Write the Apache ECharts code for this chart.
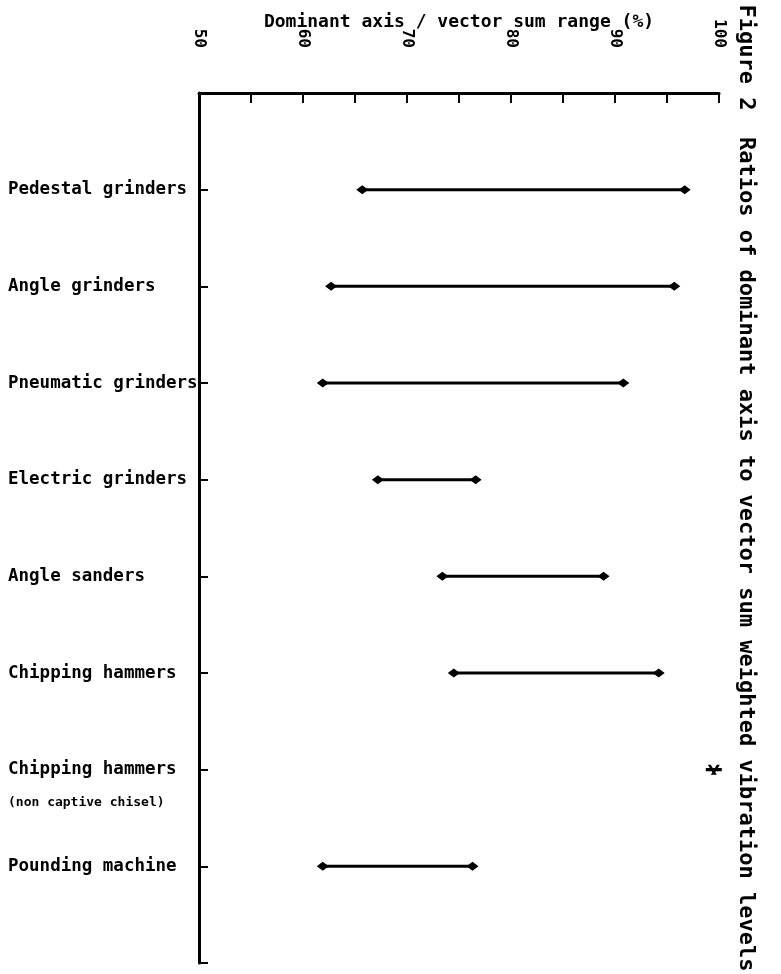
<!DOCTYPE html>
<html>
<head>
<meta charset="utf-8">
<script src="https://cdn.jsdelivr.net/npm/echarts@6/dist/echarts.min.js"></script>
<style>html,body{margin:0;padding:0;background:#fff;}#c{width:781px;height:974px;}</style>
</head>
<body>
<div id="c"></div>
<script>
const categories = ['Pedestal grinders','Angle grinders','Pneumatic grinders','Electric grinders','Angle sanders','Chipping hammers','Chipping hammers','Pounding machine'];
const subLabels = ['','','','','','','(non captive chisel)',''];
const rangeLow  = [65.7, 62.7, 61.9, 67.2, 73.4, 74.5, null, 61.9];
const rangeHigh = [96.7, 95.7, 90.8, 76.6, 88.9, 94.2, null, 76.3];
const singleValue = [null, null, null, null, null, null, 99.5, null];
const xTickLabels = ['50','60','70','80','90','100'];
const axisTitle = 'Dominant axis / vector sum range (%)';
const figTitle = 'Figure 2  Ratios of dominant axis to vector sum weighted vibration levels';

const FONT = '"DejaVu Sans Mono", monospace';
const rangeData = [];
const pointData = [];
categories.forEach((c, i) => {
  if (rangeLow[i] != null) rangeData.push([i + 1, rangeLow[i], rangeHigh[i]]);
  if (singleValue[i] != null) pointData.push([singleValue[i], i + 1]);
});

const chart = echarts.init(document.getElementById('c'), null, {renderer: 'canvas'});
chart.setOption({
  animation: false,
  backgroundColor: '#fff',
  grid: {left: 199, right: 62, top: 93, bottom: 11, containLabel: false, outerBoundsMode: 'none'},
  xAxis: {
    type: 'value', position: 'top', min: 50, max: 100, interval: 5,
    name: axisTitle, nameLocation: 'middle', nameGap: 62, nameMoveOverlap: false,
    nameTextStyle: {fontFamily: FONT, fontWeight: 'bold', fontSize: 18, color: '#000'},
    axisLine: {show: true, lineStyle: {color: '#000', width: 3}},
    axisTick: {show: true, inside: true, length: 10, lineStyle: {color: '#000', width: 2}},
    splitLine: {show: false},
    axisLabel: {
      rotate: -90, margin: 45, fontFamily: FONT, fontWeight: 'bold', fontSize: 16, color: '#000',
      formatter: v => { const k = xTickLabels.indexOf(String(v)); return k >= 0 ? xTickLabels[k] : ''; }
    }
  },
  yAxis: {
    type: 'value', inverse: true, min: 0, max: 9, interval: 1,
    axisLine: {show: true, lineStyle: {color: '#000', width: 3}},
    axisTick: {show: true, inside: true, length: 9, lineStyle: {color: '#000', width: 2}},
    splitLine: {show: false},
    axisLabel: {
      align: 'left', margin: 191, color: '#000',
      fontFamily: FONT, fontWeight: 'bold', fontSize: 17.5,
      formatter: v => {
        const i = v - 1;
        if (i < 0 || i >= categories.length) return '';
        if (subLabels[i]) return '{s| }\n{a|' + categories[i] + '}\n{s|' + subLabels[i] + '}';
        return categories[i];
      },
      rich: {
        a: {fontFamily: FONT, fontWeight: 'bold', fontSize: 17.5, color: '#000', lineHeight: 22},
        s: {fontFamily: FONT, fontWeight: 'bold', fontSize: 13, color: '#000', lineHeight: 44}
      }
    }
  },
  series: [
    {
      type: 'custom',
      data: rangeData,
      encode: {x: [1, 2], y: 0},
      renderItem: (params, api) => {
        const y = api.value(0);
        const p1 = api.coord([api.value(1), y]);
        const p2 = api.coord([api.value(2), y]);
        const d = (p) => ({type: 'polygon', shape: {points: [[p[0]-6, p[1]], [p[0], p[1]-4.5], [p[0]+6, p[1]], [p[0], p[1]+4.5]]}, style: {fill: '#000'}});
        return {type: 'group', children: [
          {type: 'line', shape: {x1: p1[0], y1: p1[1], x2: p2[0], y2: p2[1]}, style: {stroke: '#000', lineWidth: 3}},
          d(p1), d(p2)
        ]};
      }
    },
    {
      type: 'scatter',
      data: pointData,
      symbol: 'path://M0,3h16v3h-16z M2,0l3,0l6,9l-3,0z M11,0l3,0l-6,9l-3,0z',
      symbolSize: [16, 10],
      itemStyle: {color: '#000', opacity: 1}
    }
  ],
  graphic: [{
    type: 'text', x: 746, y: 488, rotation: -Math.PI / 2,
    style: {text: figTitle, fontFamily: FONT, fontWeight: 'bold', fontSize: 22, fill: '#000', align: 'center', verticalAlign: 'middle'}
  }]
});
</script>
</body>
</html>
